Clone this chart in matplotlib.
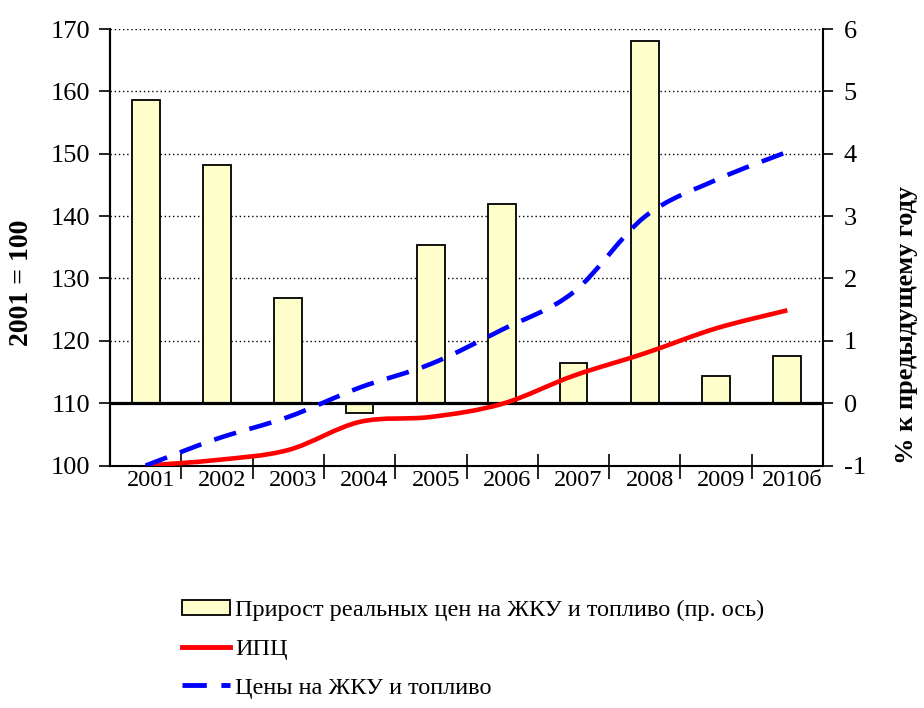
import numpy as np
import matplotlib
matplotlib.use("Agg")
import matplotlib.pyplot as plt
from matplotlib.path import Path
from matplotlib.patches import PathPatch, Patch
from matplotlib.lines import Line2D
from matplotlib import transforms

plt.rcParams['font.family'] = ['Liberation Serif', 'DejaVu Serif']
plt.rcParams['axes.unicode_minus'] = False

years = ['2001', '2002', '2003', '2004', '2005', '2006', '2007', '2008', '2009', '2010б']
growth = [4.86, 3.82, 1.68, -0.16, 2.54, 3.2, 0.64, 5.8, 0.43, 0.75]   # right axis, %
cpi = [100, 100.9, 102.5, 107.0, 107.8, 109.9, 114.4, 118.0, 122.0, 124.9]
housing = [100, 104.3, 107.8, 112.5, 116.3, 121.8, 127.8, 139.9, 145.8, 150.3]

label_bar = 'Прирост реальных цен на ЖКУ и топливо (пр. ось)'
label_cpi = 'ИПЦ'
label_house = 'Цены на ЖКУ и топливо'


def smooth_path(xs, ys):
    # Excel-like smoothed line: Catmull-Rom segments as cubic Bezier
    pts = np.column_stack([xs, ys]).astype(float)
    n = len(pts)
    verts = [pts[0]]
    codes = [Path.MOVETO]
    for i in range(n - 1):
        p0 = pts[max(i - 1, 0)]
        p1 = pts[i]
        p2 = pts[i + 1]
        p3 = pts[min(i + 2, n - 1)]
        c1 = p1 + (p2 - p0) / 6.0
        c2 = p2 - (p3 - p1) / 6.0
        verts += [c1, c2, p2]
        codes += [Path.CURVE4] * 3
    return Path(verts, codes)


fig = plt.figure(figsize=(9.24, 7.08), dpi=100)
ax = fig.add_axes([110/924, 1 - 465.6/708, (823 - 110)/924, (465.6 - 29)/708])
x = np.arange(len(years))

# bars on the right-hand scale
ax.bar(x, growth, width=0.39, color='#FFFFCC', edgecolor='black', linewidth=1.3, zorder=2)
ax.axhline(0, color='black', lw=2.3, zorder=3)
ax.set_ylim(-1, 6)
ax.set_xlim(-0.5, len(years) - 0.5)
ax.set_yticks(range(-1, 7))
ax.grid(axis='y', ls=(0, (1, 2)), color='black', lw=1.0)
ax.set_axisbelow(True)

# x axis: marks between categories, labels at centers
ax.set_xticks(np.arange(0.5, len(years) - 1, 1.0))
ax.set_xticklabels([])
ax.tick_params(axis='x', which='major', direction='inout', length=18, width=1.2)
ax.set_xticks(x, minor=True)
ax.set_xticklabels(years, minor=True, fontsize=17.5)
ax.tick_params(axis='x', which='minor', length=0, pad=3)
offset = transforms.ScaledTranslation(5/100, 0, fig.dpi_scale_trans)
for lab in ax.xaxis.get_minorticklabels():
    lab.set_transform(lab.get_transform() + offset)

ax.spines['top'].set_visible(False)
for s in ['left', 'right', 'bottom']:
    ax.spines[s].set_linewidth(1.5)

# lines on the left-hand scale
ax2 = ax.twinx()
ax.yaxis.tick_right()
ax.yaxis.set_label_position('right')
ax.tick_params(axis='y', direction='out', length=7, width=1.2, labelsize=19, pad=8)
ax2.yaxis.tick_left()
ax2.set_ylim(100, 170)
ax2.set_yticks(range(100, 171, 10))
ax2.tick_params(axis='y', direction='out', length=8, width=1.2, labelsize=19, pad=6)
for s in ['top', 'right', 'bottom']:
    ax2.spines[s].set_visible(False)
ax2.spines['left'].set_linewidth(1.5)

ax2.add_patch(PathPatch(smooth_path(x, cpi), fill=False, edgecolor='red', lw=3.3,
                        capstyle='butt', zorder=4))
ax2.add_patch(PathPatch(smooth_path(x, housing), fill=False, edgecolor='blue', lw=3.3,
                        ls=(0, (5, 3)), capstyle='butt', zorder=4))

fig.text(22/924, 1 - 283/708, '2001 = 100', rotation=90, fontsize=20, fontweight='bold',
         ha='center', va='center')
fig.text(906/924, 1 - 325/708, '% к предыдущему году', rotation=90, fontsize=19,
         fontweight='bold', ha='center', va='center')

handles = [Patch(facecolor='#FFFFCC', edgecolor='black', lw=1.3),
           Line2D([], [], color='red', lw=3.5),
           Line2D([], [], color='blue', lw=3.5, ls=(0, (5, 3)))]
fig.legend(handles, [label_bar, label_cpi, label_house], loc='upper left',
           bbox_to_anchor=(172/924, 1 - 590/708), frameon=False, fontsize=17.5,
           handlelength=2.0, handleheight=0.6, handletextpad=0.2, labelspacing=0.72,
           borderaxespad=0)

fig.savefig('out.png', dpi=100)
